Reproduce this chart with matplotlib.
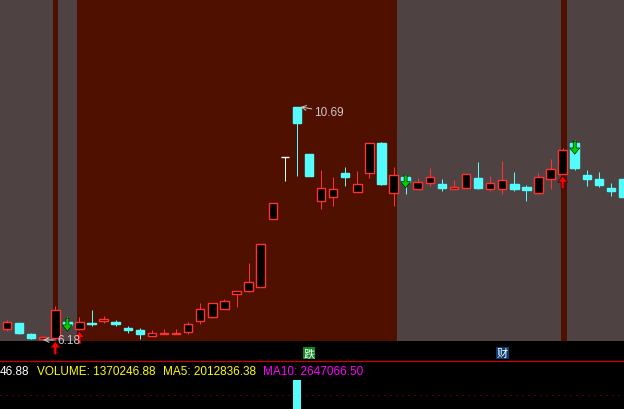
import matplotlib
matplotlib.use('Agg')
import matplotlib.pyplot as plt
import matplotlib.transforms as mtransforms

# candle data (price), one per trading day
opens = [6.42, 6.53, 6.31, 6.21, 6.24, 6.55, 6.42, 6.52, 6.57, 6.55,
         6.43, 6.40, 6.27, 6.31, 6.32, 6.35, 6.56, 6.65, 6.79, 7.08,
         7.15, 7.23, 8.53, 9.72, 10.69, 9.78, 8.88, 8.96, 9.42, 9.06,
         9.41, 10.00, 9.04, 9.34, 9.10, 9.22, 9.21, 9.11, 9.12, 9.32,
         9.10, 9.10, 9.21, 9.15, 9.03, 9.30, 9.39, 10.00, 9.38, 9.30,
         9.13, 9.30]
closes = [6.55, 6.34, 6.24, 6.25, 6.77, 6.49, 6.54, 6.51, 6.61, 6.50,
          6.40, 6.32, 6.33, 6.34, 6.34, 6.50, 6.79, 6.91, 6.95, 7.14,
          7.31, 8.04, 8.83, 9.72, 10.39, 9.35, 9.12, 9.10, 9.34, 9.20,
          9.99, 9.21, 9.37, 9.24, 9.24, 9.34, 9.13, 9.15, 9.39, 9.13,
          9.22, 9.28, 9.11, 9.08, 9.34, 9.49, 9.87, 9.51, 9.30, 9.19,
          9.07, 8.96]
highs = [6.58, 6.53, 6.34, 6.27, 6.85, 6.64, 6.64, 6.78, 6.66, 6.58,
         6.47, 6.43, 6.39, 6.41, 6.41, 6.54, 6.91, 6.91, 6.99, 7.14,
         7.68, 8.04, 8.83, 9.72, 10.69, 9.78, 9.48, 9.34, 9.53, 9.46,
         9.99, 10.02, 9.53, 9.40, 9.32, 9.51, 9.30, 9.28, 9.39, 9.63,
         9.36, 9.65, 9.44, 9.19, 9.42, 9.69, 9.90, 10.05, 9.48, 9.44,
         9.23, 9.30]
lows = [6.38, 6.31, 6.22, 6.18, 6.20, 6.47, 6.40, 6.47, 6.53, 6.47,
        6.33, 6.22, 6.27, 6.31, 6.32, 6.31, 6.51, 6.62, 6.79, 6.84,
        7.13, 7.23, 8.53, 9.27, 9.35, 9.35, 8.73, 8.79, 9.17, 9.06,
        9.33, 9.19, 8.79, 9.02, 9.10, 9.17, 9.07, 9.11, 9.12, 9.11,
        9.07, 9.01, 9.07, 8.88, 9.03, 9.11, 9.39, 9.48, 9.17, 9.15,
        8.97, 8.96]

buy_signals = [4, 6, 46]
sell_signals = [5, 33, 47]
event_idx = [25, 41]
event_text = ['跌', '财']
event_colors = ['#0a8a1e', '#0b3a6e']

# shaded periods (in candle index units)
shade_edges = [-0.6, 3.81, 4.22, 5.79, 32.28, 45.86, 46.36, 51.2]
shade_colors = ['#4f4242', '#501000', '#4f4242', '#501000', '#4f4242', '#501000', '#4f4242']

max_idx, max_price = 24, 10.69
min_idx, min_price = 3, 6.18

vol_idx = [24]
vol_values = [16.0e6]
vol_ref = 12.9e6

vol_text = [('46.88', '#ffffff', 0),
            ('VOLUME: 1370246.88', '#ffff00', 37),
            ('MA5: 2012836.38', '#ffff00', 163),
            ('MA10: 2647066.50', '#ff00ff', 263)]

UP = '#ff3232'
DOWN = '#54fcfc'
px = 0.72  # one pixel in points at dpi 100

fig = plt.figure(figsize=(6.24, 4.10), dpi=100, facecolor='black')
ax = fig.add_axes([0, 68 / 410, 1, 342 / 410])
ax.set_facecolor('black')
ax.set_axis_off()
ax.set_xlim(-0.58, 51.08)
ax.set_ylim(6.18, 12.77)

for i in range(len(shade_colors)):
    ax.axvspan(shade_edges[i], shade_edges[i + 1], color=shade_colors[i], lw=0, zorder=0)

for i in range(len(opens)):
    o, c, h, l = opens[i], closes[i], highs[i], lows[i]
    if c > o:
        col, fc = UP, 'black'
    elif c < o:
        col, fc = DOWN, DOWN
    else:
        col, fc = '#ffffff', '#ffffff'
    ax.vlines(i, l, h, color=col, lw=px, zorder=2)
    ax.bar(i, c - o, bottom=o, width=0.7, facecolor=fc, edgecolor=col,
           linewidth=1.4 * px, zorder=3)

for i in buy_signals:
    tip = lows[i] - 0.03
    ax.arrow(i, tip - 0.25, 0, 0.25, width=0.25, head_width=0.83, head_length=0.12,
             length_includes_head=True, facecolor='#ff0000', edgecolor='#300000',
             lw=0.5, zorder=5, clip_on=False)
for i in sell_signals:
    top = highs[i] - 0.02
    ax.arrow(i, top, 0, -0.25, width=0.25, head_width=0.83, head_length=0.12,
             length_includes_head=True, facecolor='#00d000', edgecolor='#002000',
             lw=0.5, zorder=5, clip_on=False)

ax.annotate('%.2f' % max_price, xy=(max_idx + 0.3, max_price), xytext=(14, -5),
            textcoords='offset pixels', color='#c8c8c8', fontsize=8.5,
            family='Liberation Sans', va='center', ha='left',
            arrowprops=dict(arrowstyle='->', color='#c8c8c8', lw=px,
                            shrinkA=0, shrinkB=0), zorder=6)
ax.annotate('%.2f' % min_price, xy=(min_idx, min_price + 0.02), xytext=(14, 0),
            textcoords='offset pixels', color='#c8c8c8', fontsize=8.5,
            family='Liberation Sans', va='center', ha='left',
            arrowprops=dict(arrowstyle='->', color='#c8c8c8', lw=px,
                            shrinkA=0, shrinkB=0), zorder=6, annotation_clip=False)

trans = mtransforms.blended_transform_factory(ax.transData, fig.transFigure)
for i, t, c in zip(event_idx, event_text, event_colors):
    ax.text(i, 1 - 354 / 410, t, transform=trans, color='white', fontsize=8,
            family=['Noto Sans CJK SC', 'DejaVu Sans'], ha='center', va='center',
            bbox=dict(boxstyle='square,pad=0.08', facecolor=c, edgecolor='none'),
            clip_on=False, zorder=6)

# volume panel
axv = fig.add_axes([0, 0, 1, 48 / 410])
axv.set_facecolor('black')
axv.set_axis_off()
axv.set_xlim(-0.58, 51.08)
axv.set_ylim(10e6, 20e6)
axv.bar(vol_idx, vol_values, width=0.7, color=DOWN, zorder=2)
axv.axhline(vol_ref, color='#b00000', lw=px, dashes=(1, 5), zorder=1)
axv.axhline(20e6, color='#c80000', lw=1.3 * px, clip_on=False, zorder=3)

for t, c, x in vol_text:
    fig.text(x / 624, 1 - 375 / 410, t, color=c, fontsize=8.5,
             family='Liberation Sans', ha='left', va='baseline')

fig.savefig('out.png', dpi=100, facecolor='black')
